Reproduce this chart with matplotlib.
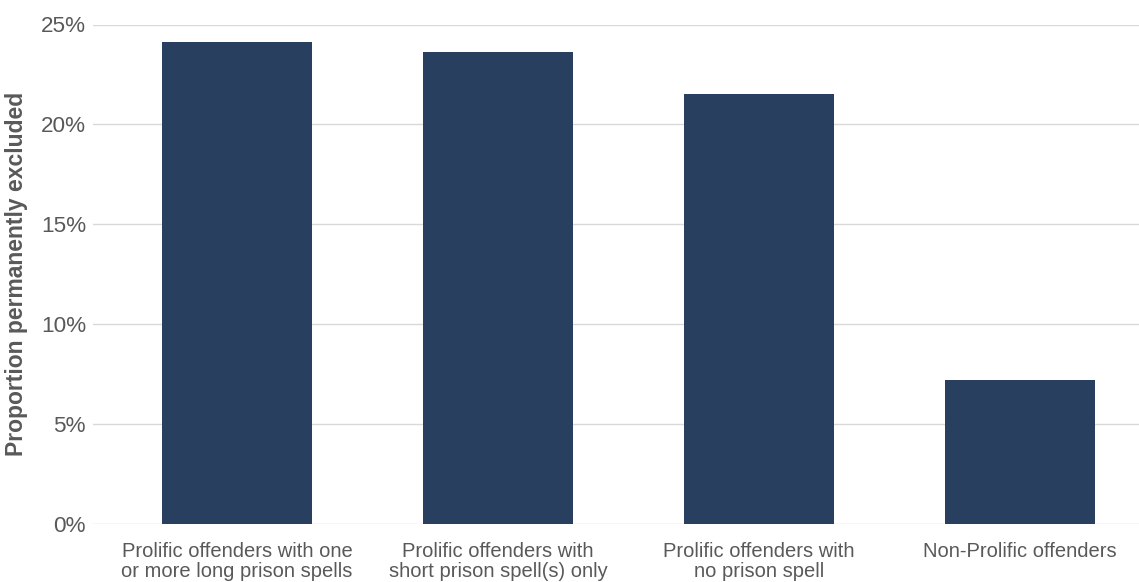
import matplotlib
matplotlib.use("Agg")
import matplotlib.pyplot as plt
from matplotlib.ticker import FuncFormatter
import numpy as np

categories = [
    "Prolific offenders with one\nor more long prison spells",
    "Prolific offenders with\nshort prison spell(s) only",
    "Prolific offenders with\nno prison spell",
    "Non-Prolific offenders",
]
excluded_pct = [24.1, 23.6, 21.5, 7.2]
y_ticks = [0, 5, 10, 15, 20, 25]

plt.rcParams["font.family"] = ["Liberation Sans", "DejaVu Sans"]
text_grey = "#595959"

fig = plt.figure(figsize=(11.39, 5.82), dpi=100)
ax = fig.add_axes([93 / 1139, 1 - 524 / 582, 1 - 93 / 1139, (524 - 24.5) / 582])

x = np.arange(len(categories))
ax.bar(x, excluded_pct, width=0.575, color="#283F5F", zorder=3)

ax.set_ylim(0, 25)
ax.set_xlim(-0.552, 3.456)
ax.set_yticks(y_ticks)
ax.yaxis.set_major_formatter(FuncFormatter(lambda v, p: f"{int(v)}%"))
ax.grid(axis="y", color="#D9D9D9", linewidth=1, zorder=0)
ax.set_xticks(x)
ax.set_xticklabels(categories, fontsize=14.5, color=text_grey, linespacing=1.08)
ax.tick_params(axis="y", labelsize=16.2, colors=text_grey, length=0, pad=5)
ax.tick_params(axis="x", length=0, pad=13)
for spine in ax.spines.values():
    spine.set_visible(False)

ax.set_ylabel("Proportion permanently excluded", fontsize=16.5, fontweight="bold",
              color=text_grey, labelpad=9)

fig.savefig("out.png", dpi=100)
plt.close(fig)
